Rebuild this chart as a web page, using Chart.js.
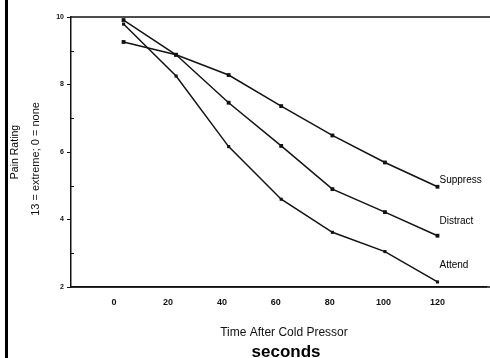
<!DOCTYPE html>
<html>
<head>
<meta charset="utf-8">
<script src="https://cdn.jsdelivr.net/npm/chart.js@4/dist/chart.umd.min.js"></script>
<style>
  html, body { margin: 0; padding: 0; background: #fff; }
  #wrap { position: relative; width: 490px; height: 358px; overflow: hidden; }
  #bar { position: absolute; left: 5px; top: 0; width: 3px; height: 358px; background: #000; }
  canvas { position: absolute; left: 0; top: 0; }
</style>
</head>
<body>
<div id="wrap">
  <canvas id="c" width="490" height="358"></canvas>
  <div id="bar"></div>
</div>
<script>
// ---- data ----
const timeSeconds = [3.5, 23, 42.5, 62, 81, 100.5, 120];
const suppress = [9.26, 8.88, 8.28, 7.36, 6.49, 5.69, 4.97];
const distract = [9.91, 8.88, 7.46, 6.18, 4.90, 4.22, 3.52];
const attend   = [9.79, 8.25, 6.16, 4.60, 3.62, 3.05, 2.15];
const seriesNames = ['Suppress', 'Distract', 'Attend'];
const xTickValues = [0, 20, 40, 60, 80, 100, 120];
const yTickValues = [2, 4, 6, 8, 10];
const yMinorValues = [3, 5, 7, 9];
const xTitle = 'Time After Cold Pressor';
const xUnit = 'seconds';
const yTitle = 'Pain Rating';
const ySubtitle = '13 = extreme; 0 = none';

const FONT = '"Liberation Sans", Arial, Helvetica, sans-serif';
const ink = '#121212';

function pts(vals) { return timeSeconds.map((t, i) => ({ x: t, y: vals[i] })); }

const labelOffsets = [[2, -7], [2, -14], [2, -17]];
const seriesData = [suppress, distract, attend];

const datasets = seriesData.map((vals, i) => ({
  label: seriesNames[i],
  data: pts(vals),
  borderColor: ink,
  backgroundColor: ink,
  borderWidth: 1.5,
  pointStyle: 'rect',
  pointRadius: i === 2 ? 2.2 : 2.7,
  pointBorderWidth: 0,
  tension: 0,
  fill: false
}));

const decor = {
  id: 'decor',
  afterDraw(chart) {
    const ctx = chart.ctx;
    const a = chart.chartArea;
    const xs = chart.scales.x, ys = chart.scales.y;
    ctx.save();
    // top frame line
    ctx.strokeStyle = ink;
    ctx.lineWidth = 1.5;
    ctx.beginPath();
    ctx.moveTo(a.left, a.top);
    ctx.lineTo(chart.width, a.top);
    ctx.stroke();
    // extend bottom axis line to the edge
    ctx.beginPath();
    ctx.moveTo(a.left, a.bottom);
    ctx.lineTo(chart.width, a.bottom);
    ctx.stroke();
    // minor ticks inside
    ctx.lineWidth = 1;
    yMinorValues.forEach(v => {
      const y = Math.round(ys.getPixelForValue(v)) + 0.5;
      ctx.beginPath();
      ctx.moveTo(a.left, y);
      ctx.lineTo(a.left + 3, y);
      ctx.stroke();
    });
    // series labels
    ctx.fillStyle = '#000';
    ctx.font = '10px ' + FONT;
    ctx.textAlign = 'left';
    ctx.textBaseline = 'middle';
    seriesData.forEach((vals, i) => {
      const last = vals.length - 1;
      const px = xs.getPixelForValue(timeSeconds[last]);
      const py = ys.getPixelForValue(vals[last]);
      ctx.fillText(seriesNames[i], px + labelOffsets[i][0], py + labelOffsets[i][1]);
    });
    // axis titles
    ctx.textAlign = 'center';
    ctx.textBaseline = 'alphabetic';
    ctx.font = '12px ' + FONT;
    ctx.fillStyle = '#111';
    ctx.fillText(xTitle, 284, 336);
    ctx.font = 'bold 17px ' + FONT;
    ctx.fillStyle = '#000';
    ctx.fillText(xUnit, 286, 357);
    // y titles
    ctx.save();
    ctx.translate(15, 152);
    ctx.rotate(-Math.PI / 2);
    ctx.textBaseline = 'middle';
    ctx.font = '10.5px ' + FONT;
    ctx.fillStyle = '#000';
    ctx.fillText(yTitle, 0, 0);
    ctx.restore();
    ctx.save();
    ctx.translate(36, 159);
    ctx.rotate(-Math.PI / 2);
    ctx.textBaseline = 'middle';
    ctx.font = '11px ' + FONT;
    ctx.fillStyle = '#111';
    ctx.fillText(ySubtitle, 0, 0);
    ctx.restore();
    ctx.restore();
  }
};

new Chart(document.getElementById('c'), {
  type: 'line',
  data: { datasets },
  options: {
    responsive: false,
    animation: false,
    events: [],
    layout: { padding: { left: 0, right: 0, top: 17, bottom: 0 } },
    plugins: { legend: { display: false }, tooltip: { enabled: false }, title: { display: false } },
    scales: {
      x: {
        type: 'linear',
        min: -16,
        max: 138,
        afterBuildTicks: s => { s.ticks = xTickValues.map(v => ({ value: v })); },
        afterFit: s => { s.height = 71; },
        grid: { display: false, drawTicks: false },
        border: { display: true, color: ink, width: 1.5 },
        ticks: { padding: 10, color: '#111', font: { family: FONT, size: 9, weight: 'bold' }, maxRotation: 0, autoSkip: false }
      },
      y: {
        type: 'linear',
        min: 2,
        max: 10,
        afterBuildTicks: s => { s.ticks = yTickValues.map(v => ({ value: v })); },
        afterFit: s => { s.width = 71; },
        grid: { display: true, drawOnChartArea: false, drawTicks: true, tickLength: 4, color: ink, lineWidth: 1 },
        border: { display: true, color: ink, width: 1.5 },
        ticks: { padding: 3, color: '#111', font: { family: FONT, size: 7, weight: 'bold' } }
      }
    }
  },
  plugins: [decor]
});
</script>
</body>
</html>
